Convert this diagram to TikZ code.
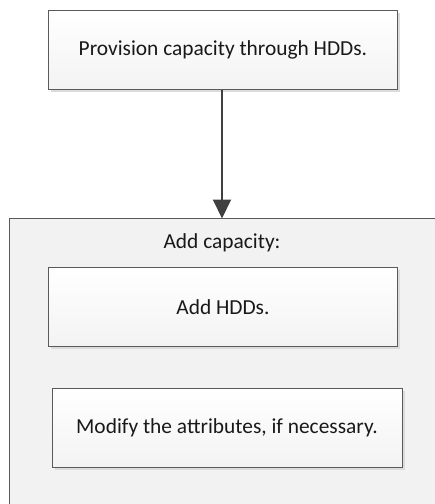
\documentclass[tikz,border=0pt]{standalone}
\usepackage{fontspec}
\setmainfont{Carlito}
\usetikzlibrary{arrows.meta,shadows}
\definecolor{edge}{HTML}{5A5A5A}
\definecolor{linegray}{HTML}{404040}
\definecolor{panel}{HTML}{F2F2F2}
\begin{document}
\begin{tikzpicture}[x=1pt,y=-1pt,
  txt/.style={font=\fontsize{21.4}{25}\selectfont, text=black!90},
  stepbox/.style={txt, draw=edge, line width=0.9pt, top color=white, bottom color=panel!85!gray!40,
    minimum width=349pt, minimum height=79pt, inner sep=0pt, anchor=north west,
    drop shadow={shadow xshift=3pt, shadow yshift=-3pt, fill=black!14, opacity=1}},
  flow/.style={draw=linegray, line width=2pt, -{Triangle[length=19pt,width=18pt]}}]
  \useasboundingbox (0,0) rectangle (435,504);
  % outer container, running off the right and bottom edges
  \fill[panel] (9.5,218.5) rectangle (440,510);
  \draw[edge, line width=0.9pt] (9.5,510) -- (9.5,218.5) -- (440,218.5);
  \node[txt] (title) at (222,243) {Add capacity:};
  \coordinate (top) at (222,218.5);
  % steps
  \node[stepbox] (prov) at (48,10) {Provision capacity through HDDs.};
  \node[stepbox] (add) at (48,267) {Add HDDs.};
  \node[stepbox, minimum width=350pt] (mod) at (51.5,388) {Modify the attributes, if necessary.};
  \draw[flow] (prov.south -| top) -- (top);
\end{tikzpicture}
\end{document}
